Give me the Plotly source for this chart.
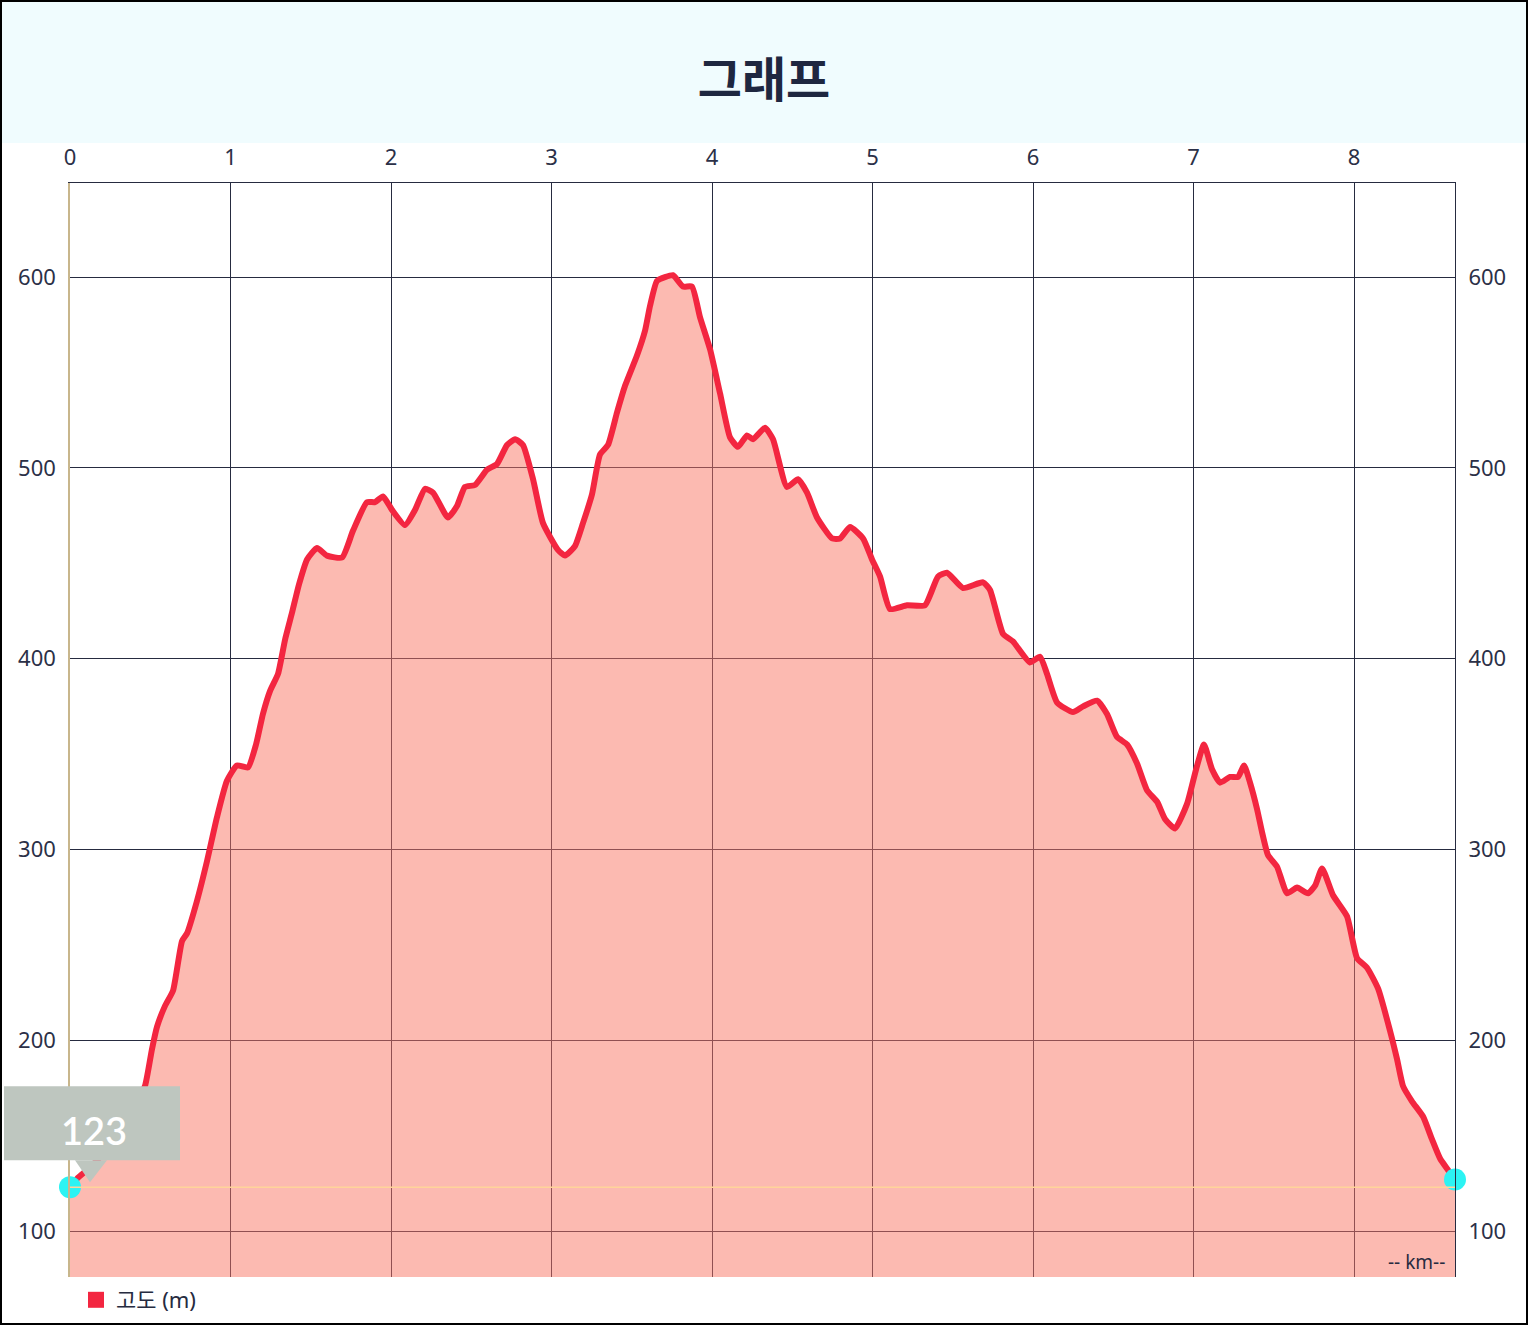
import plotly.graph_objects as go

# ---------------- data ----------------
dist_km = [0.00, 0.05, 0.12, 0.31, 0.405, 0.467, 0.51, 0.542, 0.592, 0.642, 0.698, 0.729, 0.791, 0.854, 0.916, 0.978,
           1.040, 1.109, 1.159, 1.202, 1.246, 1.296, 1.340, 1.383, 1.427, 1.477, 1.539, 1.601, 1.695, 1.763, 1.850,
           1.900, 1.950, 2.006, 2.087, 2.150, 2.212, 2.262, 2.355, 2.411, 2.461, 2.523, 2.598, 2.660, 2.723, 2.773,
           2.822, 2.885, 2.947, 3.040, 3.084, 3.146, 3.196, 3.252, 3.302, 3.352, 3.408, 3.458, 3.533, 3.583, 3.614,
           3.657, 3.707, 3.757, 3.819, 3.875, 3.925, 3.988, 4.050, 4.112, 4.162, 4.218, 4.255, 4.330, 4.380, 4.467,
           4.536, 4.592, 4.654, 4.748, 4.798, 4.860, 4.941, 4.997, 5.047, 5.109, 5.215, 5.327, 5.408, 5.464, 5.564,
           5.688, 5.732, 5.813, 5.875, 5.981, 6.044, 6.087, 6.150, 6.249, 6.312, 6.399, 6.461, 6.523, 6.586, 6.648,
           6.710, 6.773, 6.822, 6.885, 6.960, 7.016, 7.065, 7.115, 7.165, 7.227, 7.277, 7.315, 7.352, 7.396, 7.427,
           7.464, 7.520, 7.583, 7.645, 7.713, 7.757, 7.801, 7.869, 7.956, 8.019, 8.081, 8.150, 8.224, 8.268, 8.305,
           8.361, 8.430, 8.486, 8.536, 8.629]
elev_m = [123, 128, 133, 150, 166, 176, 195, 207, 218, 226, 252, 256, 273, 294, 317, 336,
          344, 343, 355, 371, 383, 392, 410, 424, 439, 452, 458, 454, 453, 467, 482,
          482, 485, 478, 470, 478, 489, 487, 474, 480, 490, 491, 499, 502, 512, 515,
          512, 494, 471, 457, 454, 459, 471, 486, 507, 512, 529, 543, 559, 572, 585,
          598, 600, 601, 595, 595, 579, 562, 539, 516, 511, 517, 515, 521, 515, 490,
          494, 487, 474, 463, 463, 469, 463, 452, 443, 426, 428, 428, 443, 445, 437,
          440, 436, 413, 409, 398, 401, 392, 377, 372, 375, 378, 371, 359, 355, 345,
          331, 325, 316, 311, 324, 342, 355, 342, 335, 338, 338, 344, 335, 321, 309,
          297, 291, 277, 280, 277, 281, 290, 276, 265, 243, 238, 227, 205, 190, 176,
          168, 160, 148, 138, 127]
x_ticks = [0, 1, 2, 3, 4, 5, 6, 7, 8]
y_ticks = [100, 200, 300, 400, 500, 600]
title_text = "그래프"
series_name = "고도 (m)"
unit_label = "-- km--"

# ---------------- layout constants ----------------
W, H = 1528, 1325
ML, MR, MT, MB = 70, 73, 183, 48
PW, PH = W - ML - MR, H - MT - MB
Y_RANGE = [75.9, 649.3]
RED = "#f32640"
NAVY = "#262b40"
TICK_FONT = dict(family="Noto Sans, Lato, sans-serif", size=22, color="#2b3047")

fig = go.Figure()

fig.add_trace(go.Scatter(
    x=dist_km, y=elev_m, mode="lines",
    line=dict(color=RED, width=6, shape="spline", smoothing=0.5),
    fill="tozeroy", fillcolor="rgba(249,118,100,0.5)",
    showlegend=False, hoverinfo="skip"))

# start / end markers
fig.add_trace(go.Scatter(
    x=[dist_km[0], dist_km[-1]], y=[elev_m[0], elev_m[-1]], mode="markers",
    marker=dict(size=22, color="#2cf3f3"), cliponaxis=False,
    showlegend=False, hoverinfo="skip"))

# legend entry
fig.add_trace(go.Scatter(
    x=[None], y=[None], mode="markers", name=series_name,
    marker=dict(symbol="square", size=20, color=RED), showlegend=True))

# right axis companion
fig.add_trace(go.Scatter(x=[None], y=[None], yaxis="y2", showlegend=False, hoverinfo="skip"))

shapes = []
# title band
shapes.append(dict(type="rect", xref="paper", yref="paper", layer="below",
                   x0=-(ML - 2) / PW, x1=1 + (MR - 2) / PW,
                   y0=1 + (MT - 143) / PH, y1=1 + (MT - 2) / PH,
                   fillcolor="#f0fcfe", line=dict(width=0)))
# outer border
shapes.append(dict(type="rect", xref="paper", yref="paper", layer="above",
                   x0=-(ML - 1) / PW, x1=1 + (MR - 1) / PW,
                   y0=-(MB - 1) / PH, y1=1 + (MT - 1) / PH,
                   fillcolor="rgba(0,0,0,0)", line=dict(width=2, color="black")))
# reference line at start elevation
shapes.append(dict(type="line", xref="paper", yref="y", x0=0, x1=1,
                   y0=elev_m[0], y1=elev_m[0], layer="above",
                   line=dict(color="#ffd49a", width=1.5)))
# tooltip box + pointer anchored to start point (pixel offsets)
shapes.append(dict(type="rect", xref="paper", yref="y", xsizemode="pixel", ysizemode="pixel",
                   xanchor=0, yanchor=elev_m[0], x0=-66, x1=110, y0=27, y1=101,
                   fillcolor="#bec6bf", line=dict(width=0), layer="above"))
shapes.append(dict(type="path", xref="paper", yref="y", xsizemode="pixel", ysizemode="pixel",
                   xanchor=0, yanchor=elev_m[0], path="M 5 27 L 37 27 L 20 5 Z",
                   fillcolor="#bec6bf", line=dict(width=0), layer="above"))

annotations = [
    dict(x=dist_km[0], y=elev_m[0], xref="x", yref="y", text=str(elev_m[0]), showarrow=False,
         xshift=24, yshift=57,
         font=dict(family="Lato, Noto Sans, sans-serif", size=38, color="white", weight=600)),
    dict(x=1, y=0, xref="paper", yref="paper", xanchor="right", yanchor="bottom",
         text=unit_label, showarrow=False, xshift=-8, yshift=0,
         font=dict(family="Noto Sans, sans-serif", size=19, color=NAVY)),
]

fig.update_layout(
    width=W, height=H, autosize=False,
    margin=dict(l=ML, r=MR, t=MT, b=MB, pad=0, autoexpand=False),
    paper_bgcolor="white", plot_bgcolor="white",
    title=dict(text=title_text, x=0.5, xanchor="center", y=1 - 80 / H, yanchor="middle", yref="container",
               font=dict(family="Noto Sans CJK KR", size=48, color="#1e2740", weight="bold")),
    xaxis=dict(range=[dist_km[0], dist_km[-1]], side="top", tickvals=x_ticks, automargin=False,
               showgrid=True, gridcolor=NAVY, gridwidth=1, zeroline=False,
               showline=True, linecolor=NAVY, linewidth=1, ticks="", tickfont=TICK_FONT,
               ticklabelstandoff=8),
    yaxis=dict(range=Y_RANGE, tickvals=y_ticks, showgrid=True, gridcolor=NAVY, gridwidth=1,
               zeroline=False, showline=True, linecolor="#c8b68c", linewidth=1.5, ticks="",
               tickfont=TICK_FONT, ticklabelstandoff=8, automargin=False),
    yaxis2=dict(range=Y_RANGE, tickvals=y_ticks, overlaying="y", side="right", showgrid=False,
                zeroline=False, showline=True, linecolor=NAVY, linewidth=1, ticks="",
                tickfont=TICK_FONT, ticklabelstandoff=8, automargin=False),
    legend=dict(orientation="h", xref="container", x=76 / W, xanchor="left",
                yref="container", y=1 - 1300 / H, yanchor="middle",
                font=dict(family="Noto Sans, Noto Sans CJK KR, sans-serif", size=22, color=NAVY),
                bgcolor="rgba(0,0,0,0)"),
    shapes=shapes, annotations=annotations,
)

fig.write_html("out.html",
               config={"responsive": False, "displayModeBar": False},
               post_script="document.body.style.margin='0';document.body.style.overflow='hidden';")
